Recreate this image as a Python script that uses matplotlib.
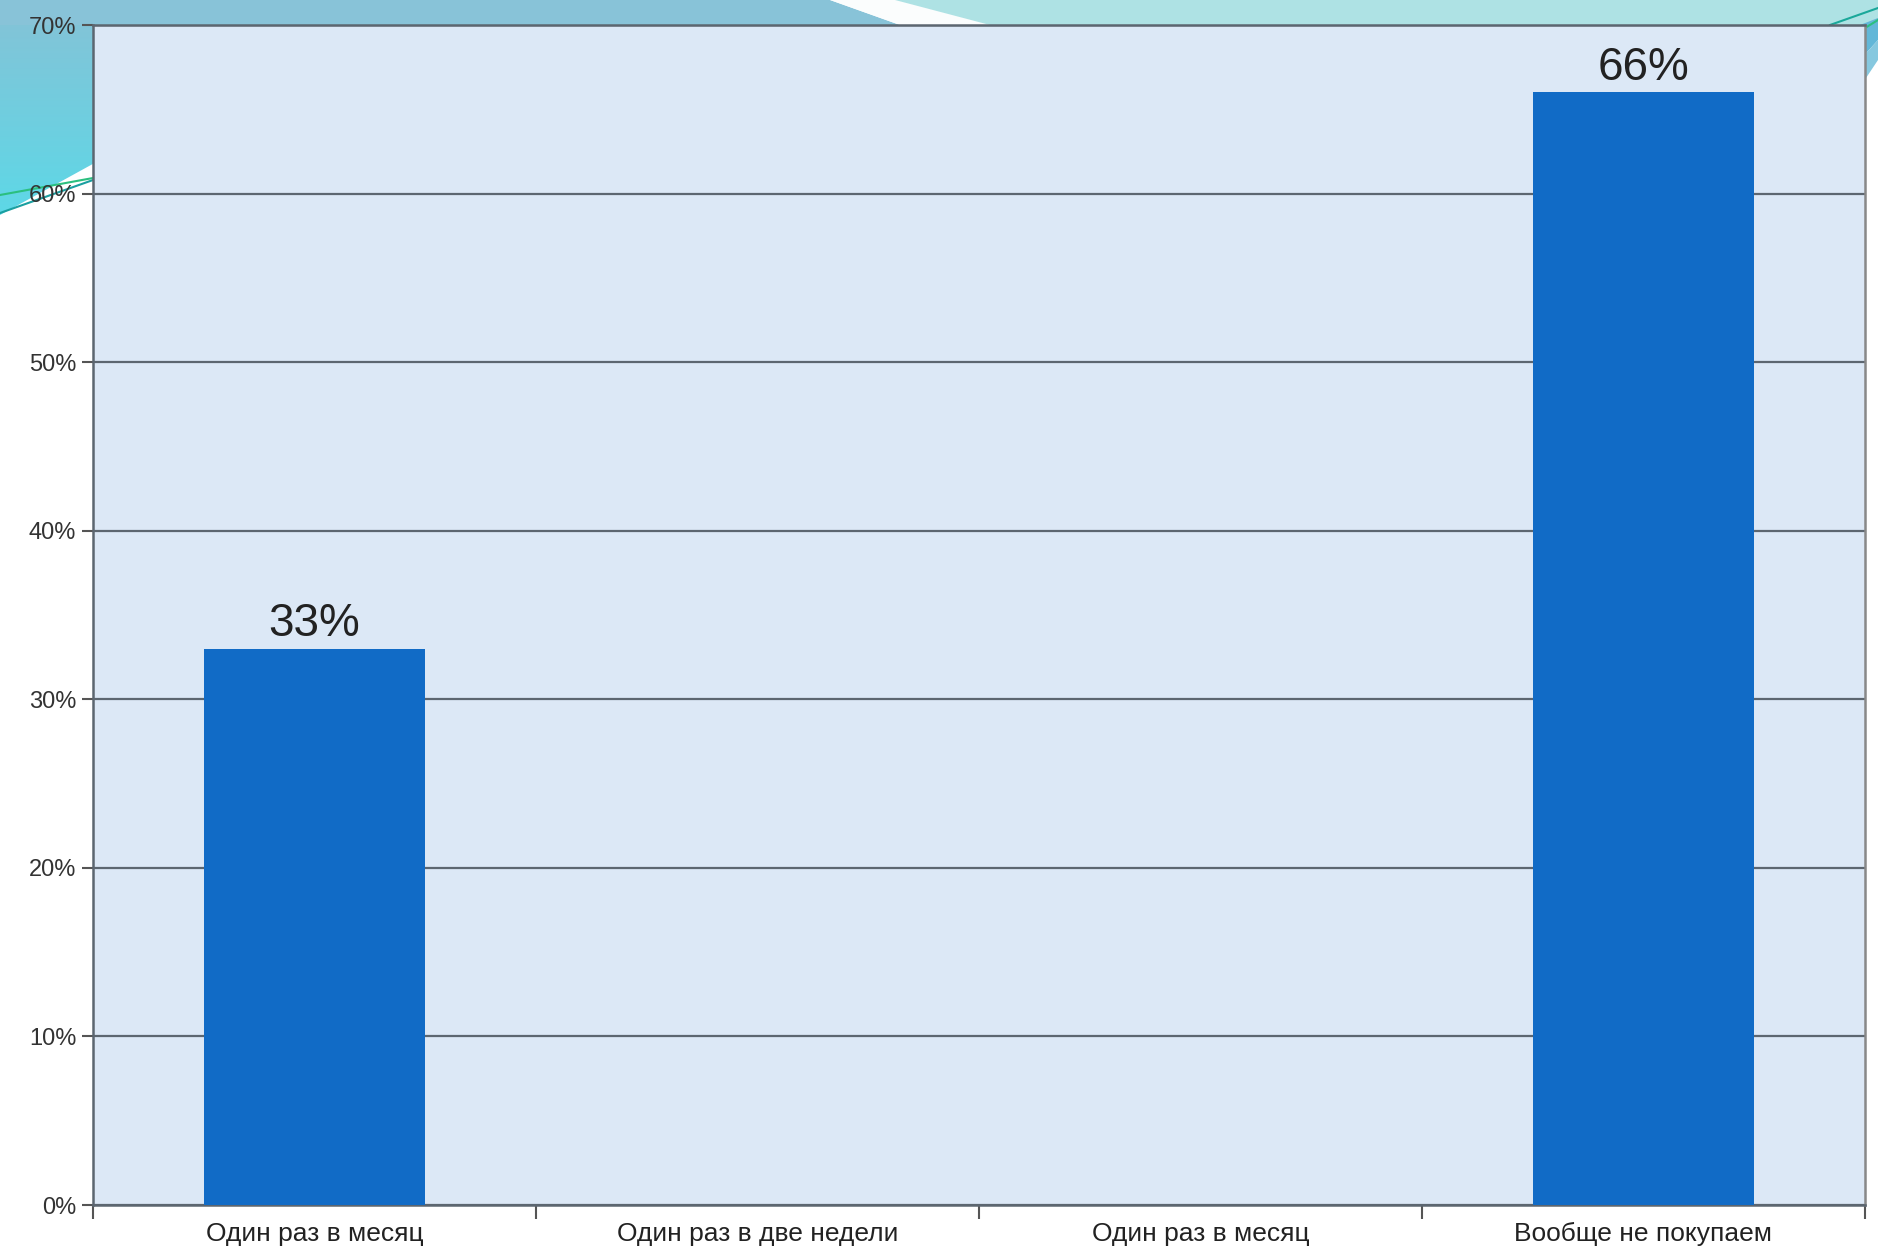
import matplotlib
matplotlib.use("Agg")
import matplotlib.pyplot as plt
from matplotlib.patches import Polygon
import numpy as np

categories = ['Один раз в месяц', 'Один раз в две недели', 'Один раз в месяц', 'Вообще не покупаем']
values = [33, 0, 0, 66]
labels = ['33%', '', '', '66%']
yticks = [0, 10, 20, 30, 40, 50, 60, 70]
ytick_labels = ['0%', '10%', '20%', '30%', '40%', '50%', '60%', '70%']

plt.rcParams['font.family'] = ['Liberation Sans', 'DejaVu Sans']

W, H = 1878, 1253
fig = plt.figure(figsize=(W / 100, H / 100), dpi=100)
fig.patch.set_facecolor('white')

# decorative slide background in pixel coordinates
bg = fig.add_axes([0, 0, 1, 1], zorder=0)
bg.set_xlim(0, W)
bg.set_ylim(H, 0)
bg.axis('off')

# left teal region with vertical gradient
grad = np.linspace(0, 1, 256).reshape(-1, 1)
from matplotlib.colors import LinearSegmentedColormap
cmap = LinearSegmentedColormap.from_list('teal', ['#86c2d6', '#5dd8e7'])
im = bg.imshow(grad, extent=(0, 100, 215, 0), cmap=cmap, aspect='auto', zorder=1)
left_poly = Polygon([(0, 0), (100, 0), (100, 160), (0, 215)], closed=True,
                    facecolor='none', edgecolor='none')
bg.add_patch(left_poly)
im.set_clip_path(left_poly)

# top band
bg.add_patch(Polygon([(0, 0), (830, 0), (900, 25), (0, 25)], closed=True,
                     facecolor='#88c3d8', edgecolor='none', zorder=2))
bg.add_patch(Polygon([(830, 0), (895, 0), (990, 25), (900, 25)], closed=True,
                     facecolor='#fbfdfd', edgecolor='none', zorder=2))
bg.add_patch(Polygon([(895, 0), (W, 0), (W, 25), (990, 25)], closed=True,
                     facecolor='#aee2e4', edgecolor='none', zorder=2))
# right-side stripes
bg.add_patch(Polygon([(1860, 25), (W, 18), (W, 40), (1860, 60)], closed=True,
                     facecolor='#62b7d8', edgecolor='none', zorder=2))
bg.add_patch(Polygon([(1860, 60), (W, 40), (W, 60), (1860, 87)], closed=True,
                     facecolor='#86c8df', edgecolor='none', zorder=2))
bg.plot([1830, W], [25, 8], color='#1aa89a', lw=1.5, zorder=3)
bg.plot([1865, W], [28, 20], color='#2bbf7f', lw=1.5, zorder=3)
# left-side lines
bg.plot([0, 93], [213, 180], color='#1a9fa0', lw=1.5, zorder=3)
bg.plot([0, 93], [195, 178], color='#2bbf7f', lw=1.5, zorder=3)

ax = fig.add_axes([93 / W, 1 - 1205 / H, (1865 - 93) / W, (1205 - 25) / H], zorder=2)
ax.set_facecolor('#dce8f6')

x = np.arange(len(categories))
ax.bar(x, values, width=0.5, color='#116bc6', zorder=3)
for xi, v, lab in zip(x, values, labels):
    if lab:
        ax.text(xi, v + 0.15, lab, ha='center', va='bottom', fontsize=33, color='#222222', zorder=4)

ax.set_xlim(-0.5, len(categories) - 0.5)
ax.set_ylim(0, 70)
ax.set_yticks(yticks)
ax.set_yticklabels(ytick_labels, fontsize=17, color='#333333')
ax.yaxis.grid(True, color='#5c6670', lw=1.6, zorder=1)
ax.set_axisbelow(True)

ax.set_xticks(x)
ax.set_xticklabels(categories, fontsize=19, color='#222222')
ax.tick_params(axis='x', length=0, pad=12)
ax.set_xticks(np.arange(-0.5, len(categories)), minor=True)
ax.tick_params(axis='x', which='minor', length=10, width=1.5, color='#555555')
ax.tick_params(axis='y', length=8, width=1.5, color='#555555', pad=4)

for s in ['left', 'bottom', 'top', 'right']:
    ax.spines[s].set_color('#5c6670')
    ax.spines[s].set_linewidth(1.8)
ax.spines['right'].set_color('#888888')

fig.savefig('out.png', dpi=100, facecolor=fig.get_facecolor())
